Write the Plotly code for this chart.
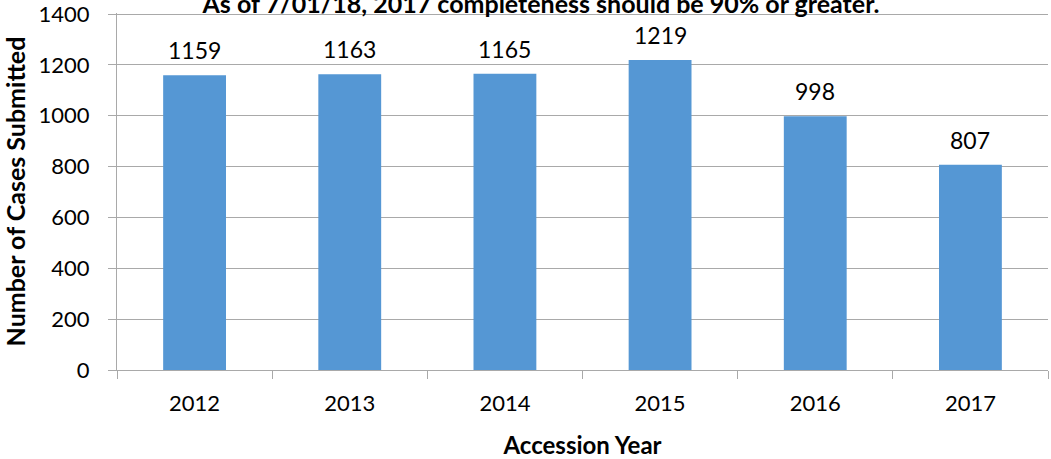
import plotly.graph_objects as go

years = ["2012", "2013", "2014", "2015", "2016", "2017"]
cases = [1159, 1163, 1165, 1219, 998, 807]
y_ticks = [0, 200, 400, 600, 800, 1000, 1200, 1400]

title_text = "As of 7/01/18, 2017 completeness should be 90% or greater."
x_title = "Accession Year"
y_title = "Number of Cases Submitted"

FONT = "Lato, Carlito, Calibri, sans-serif"
GRID = "#a9a9a9"

fig = go.Figure()
fig.add_trace(go.Bar(
    x=years, y=cases,
    marker=dict(color="#5597d4", line=dict(width=0)),
    hoverinfo="x+y",
))

for i, v in enumerate(cases):
    fig.add_annotation(
        x=i, y=v, xref="x", yref="y",
        text=str(v), showarrow=False,
        xanchor="center", yanchor="bottom", yshift=9,
        font=dict(family=FONT, size=23, color="#000000"),
    )

fig.update_layout(
    width=1051, height=459,
    margin=dict(l=117, r=3, t=13, b=89),
    paper_bgcolor="white", plot_bgcolor="white",
    showlegend=False,
    bargap=0.595,
    title=dict(
        text="<b>" + title_text + "</b>",
        x=0.5147, xref="container", xanchor="center",
        y=0.991, yref="container", yanchor="middle",
        font=dict(family=FONT, size=25, color="#000000"),
    ),
    xaxis=dict(
        type="category", automargin=False,
        showgrid=False,
        showline=True, linecolor=GRID, linewidth=1,
        ticks="outside", tickson="boundaries", ticklen=8, tickcolor=GRID,
        ticklabelstandoff=14,
        tickfont=dict(family=FONT, size=22, color="#000000"),
        title=dict(text="<b>" + x_title + "</b>", standoff=35,
                   font=dict(family=FONT, size=24, color="#000000")),
    ),
    yaxis=dict(
        range=[0, 1404], tickmode="array", tickvals=y_ticks,
        automargin=False,
        showgrid=True, gridcolor=GRID, gridwidth=1,
        showline=True, linecolor=GRID, linewidth=1,
        ticks="outside", ticklen=8, tickcolor=GRID,
        ticklabelstandoff=14, ticklabeloverflow="allow",
        zeroline=False,
        tickfont=dict(family=FONT, size=22, color="#000000"),
        title=dict(text="<b>" + y_title + "</b>", standoff=14,
                   font=dict(family=FONT, size=25, color="#000000")),
    ),
)

fig.write_html("out.html")
